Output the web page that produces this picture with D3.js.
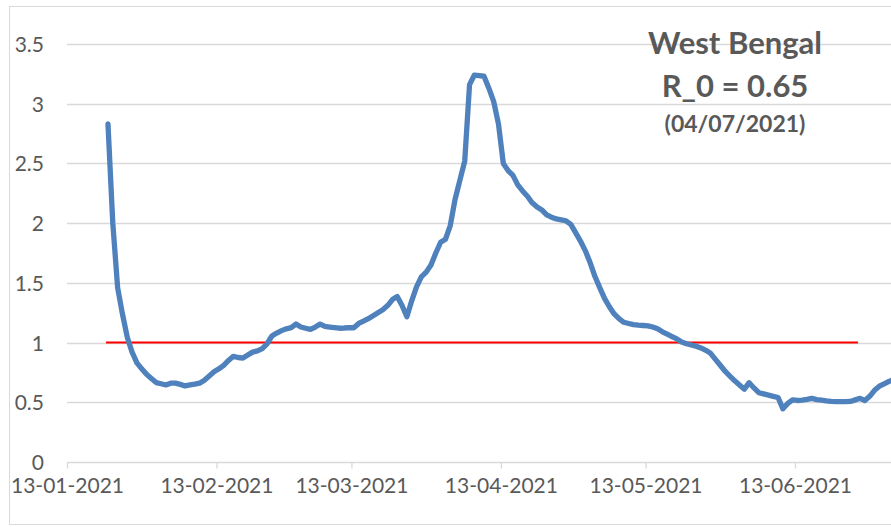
<!DOCTYPE html>
<html>
<head>
<meta charset="utf-8">
<script src="https://cdn.jsdelivr.net/npm/d3@7"></script>
<style>
  html, body { margin: 0; padding: 0; background: #fff; overflow: hidden; }
  svg { display: block; font-family: Lato, 'Open Sans', sans-serif; }
</style>
</head>
<body>
<script>
// daily R values for West Bengal, 21-01-2021 .. 04-07-2021
var startDate = '21-01-2021';
var endDate = '04-07-2021';
var rValues = [
  2.83, 2.00, 1.46, 1.24, 1.045, 0.92, 0.83, 0.78, 0.735, 0.70,
  0.665, 0.655, 0.645, 0.66, 0.66, 0.65, 0.637, 0.645, 0.652, 0.66,
  0.685, 0.72, 0.755, 0.78, 0.81, 0.85, 0.885, 0.875, 0.87, 0.895,
  0.92, 0.93, 0.95, 0.99, 1.055, 1.08, 1.10, 1.115, 1.125, 1.155,
  1.13, 1.12, 1.11, 1.13, 1.155, 1.135, 1.13, 1.125, 1.12, 1.122,
  1.125, 1.124, 1.16, 1.18, 1.20, 1.225, 1.25, 1.275, 1.31, 1.36,
  1.385, 1.31, 1.216, 1.35, 1.467, 1.55, 1.59, 1.65, 1.75, 1.84,
  1.865, 1.98, 2.20, 2.36, 2.52, 3.16, 3.24, 3.235, 3.23, 3.13,
  3.02, 2.83, 2.50, 2.44, 2.40, 2.32, 2.27, 2.225, 2.17, 2.135,
  2.11, 2.07, 2.05, 2.035, 2.028, 2.02, 1.99, 1.92, 1.85, 1.77,
  1.67, 1.555, 1.46, 1.37, 1.30, 1.24, 1.20, 1.17, 1.16, 1.15,
  1.146, 1.143, 1.14, 1.13, 1.115, 1.09, 1.07, 1.05, 1.03, 1.005,
  0.99, 0.98, 0.97, 0.955, 0.935, 0.91, 0.86, 0.81, 0.76, 0.72,
  0.68, 0.645, 0.61, 0.664, 0.62, 0.58, 0.57, 0.56, 0.55, 0.54,
  0.445, 0.49, 0.52, 0.515, 0.518, 0.525, 0.533, 0.522, 0.518, 0.512,
  0.507, 0.505, 0.505, 0.505, 0.507, 0.52, 0.533, 0.515, 0.55, 0.60,
  0.635, 0.655, 0.675, 0.69, 0.71
];

// reference line R = 1
var thresholdDates = ['21-01-2021', '26-06-2021'];
var thresholdValue = 1;

var yTicks = [0, 0.5, 1, 1.5, 2, 2.5, 3, 3.5];
var xTickLabels = ['13-01-2021', '13-02-2021', '13-03-2021', '13-04-2021', '13-05-2021', '13-06-2021'];
var axisDates = ['13-01-2021', '13-07-2021'];

var titleLines = ['West Bengal', 'R_0 = 0.65', '(04/07/2021)'];

var parse = d3.timeParse('%d-%m-%Y');

var width = 891, height = 527;
var svg = d3.select('body').append('svg')
    .attr('width', width)
    .attr('height', height);

// outer chart border (cut off on the right like the picture)
svg.append('rect')
    .attr('x', 9.5).attr('y', 6.5)
    .attr('width', 920).attr('height', 518)
    .attr('fill', 'none')
    .attr('stroke', '#d9d9d9');

// plot area spans past the right edge of the window
var x = d3.scaleTime()
    .domain(axisDates.map(parse))
    .range([67, 939.6]);
var y = d3.scaleLinear().domain([0, 3.5]).range([462, 44]);

// points sit in the middle of their day
function px(d) { return x(d3.timeHour.offset(d, 12)); }

// gridlines
svg.append('g')
    .selectAll('line')
    .data(yTicks.slice(1))
    .enter().append('line')
    .attr('x1', 67).attr('x2', width)
    .attr('y1', function(d) { return Math.round(y(d)) + 0.5; })
    .attr('y2', function(d) { return Math.round(y(d)) + 0.5; })
    .attr('stroke', '#d9d9d9')
    .attr('stroke-width', 1.3);

// y axis labels
svg.append('g')
    .selectAll('text')
    .data(yTicks)
    .enter().append('text')
    .attr('x', 44)
    .attr('y', function(d) { return y(d) + 8; })
    .attr('text-anchor', 'end')
    .attr('fill', '#595959')
    .style('font-size', '21px')
    .text(function(d) { return d; });

// x axis
var xAxis = d3.axisBottom(x)
    .tickValues(xTickLabels.map(parse))
    .tickSize(6)
    .tickFormat(d3.timeFormat('%d-%m-%Y'));

var gx = svg.append('g')
    .attr('transform', 'translate(0,' + (Math.round(y(0)) + 0.5) + ')')
    .call(xAxis);
gx.select('.domain')
    .attr('d', 'M67,0H' + width)
    .attr('stroke', '#d9d9d9')
    .attr('stroke-width', 1.3);
gx.selectAll('.tick line').attr('stroke', '#d9d9d9').attr('stroke-width', 1.3);
gx.selectAll('.tick text')
    .attr('y', 16)
    .attr('dy', '0.71em')
    .attr('fill', '#595959')
    .style('font-family', 'Lato, sans-serif')
    .style('font-size', '21px');

// R = 1 reference line
var thresholdData = thresholdDates.map(function(s) { return { date: parse(s), value: thresholdValue }; });
svg.append('path')
    .datum(thresholdData)
    .attr('fill', 'none')
    .attr('stroke', '#ff0000')
    .attr('stroke-width', 2)
    .attr('d', d3.line()
        .x(function(d) { return px(d.date) - 2; })
        .y(function(d) { return y(d.value); }));

// the R series
var days = d3.timeDay.range(parse(startDate), d3.timeDay.offset(parse(endDate), 1));
var series = rValues.map(function(v, i) { return { date: days[i], value: v }; });

svg.append('path')
    .datum(series)
    .attr('fill', 'none')
    .attr('stroke', '#4f81bd')
    .attr('stroke-width', 5.3)
    .attr('stroke-linejoin', 'round')
    .attr('stroke-linecap', 'round')
    .attr('d', d3.line()
        .x(function(d) { return px(d.date); })
        .y(function(d) { return y(d.value); }));

// title block
var title = svg.append('g').attr('fill', '#595959').attr('text-anchor', 'middle').style('font-weight', 'bold');
title.append('text').attr('x', 735).attr('y', 54).style('font-size', '31px').text(titleLines[0]);
title.append('text').attr('x', 735).attr('y', 97).style('font-size', '31px').text(titleLines[1]);
title.append('text').attr('x', 735).attr('y', 132).style('font-size', '23px').text(titleLines[2]);
</script>
</body>
</html>
